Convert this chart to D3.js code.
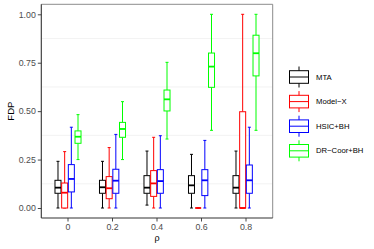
<!DOCTYPE html>
<html><head><meta charset="utf-8">
<script src="https://cdn.jsdelivr.net/npm/d3@7"></script>
<style>body{margin:0;background:#fff}svg{display:block}</style>
</head><body>
<svg id="c" width="374" height="249"></svg>
<script>
const categories = ["0","0.2","0.4","0.6","0.8"];
const seriesNames = ["MTA","Model\u2212X","HSIC+BH","DR\u2212Coor+BH"];
const seriesColors = ["#000000","#FF0000","#0000FF","#00FF00"];
const yTicks = [0,0.25,0.5,0.75,1];
const yTickLabels = ["0.00","0.25","0.50","0.75","1.00"];
// each entry: [min, q1, median, q3, max] per category
const mta    = [[0,0.076,0.105,0.143,0.241],[0,0.076,0.107,0.143,0.241],[0.015,0.076,0.105,0.167,0.294],[0,0.076,0.117,0.167,0.277],[0,0.076,0.105,0.167,0.294]];
const modelX = [[0,0,0.079,0.129,0.291],[0,0.048,0.102,0.162,0.312],[0,0.060,0.127,0.193,0.365],[0,0,0,0,0],[0,0,0,0.497,1.0]];
const hsic   = [[0,0.083,0.150,0.224,0.417],[0,0.076,0.141,0.200,0.380],[0,0.076,0.139,0.198,0.373],[0,0.064,0.143,0.198,0.349],[0,0.076,0.143,0.222,0.417]];
const drCoor = [[0.25,0.334,0.368,0.398,0.482],[0.25,0.365,0.408,0.442,0.549],[0.356,0.501,0.561,0.609,0.752],[0.401,0.623,0.730,0.800,1.0],[0.401,0.682,0.799,0.892,1.0]];
const seriesData = [mta, modelX, hsic, drCoor];

const svg = d3.select("#c");
const L = 41.3, R = 272.7, T = 4.3, B = 218;
const x = d3.scaleBand().domain(categories).range([L, R]).paddingOuter(0.1).paddingInner(0);
const y = d3.scaleLinear().range([B, T]);
y.domain([0 - (B-208)/193.7, 1 + (14.3-T)/193.7]);
const inner = d3.scaleBand().domain(d3.range(4)).range([0, x.bandwidth()*0.6]);
const off = x.bandwidth()*0.2;
const font = "Liberation Sans, Arial, sans-serif";

// grid (minor)
const minor = [0.125,0.375,0.625,0.875];
svg.append("g").selectAll("line").data(minor).join("line")
  .attr("x1", L).attr("x2", R).attr("y1", d=>y(d)).attr("y2", d=>y(d))
  .attr("stroke", "#ebebeb").attr("stroke-width", 0.6);

// panel top/right border
svg.append("path").attr("d", `M${L},${T}H${R}V${B}`).attr("fill","none").attr("stroke","#7f7f7f").attr("stroke-width",0.9);

// boxes
seriesData.forEach((sd, si) => {
  const g = svg.append("g");
  sd.forEach((s, ci) => {
    const cx = x(categories[ci]) + off + inner(si) + inner.bandwidth()/2;
    const w = inner.bandwidth()*0.9;
    const col = seriesColors[si];
    const cap = w*0.5;
    const [mn,q1,md,q3,mx] = s;
    g.append("line").attr("x1",cx).attr("x2",cx).attr("y1",y(q3)).attr("y2",y(mx)).attr("stroke",col).attr("stroke-width",1);
    g.append("line").attr("x1",cx).attr("x2",cx).attr("y1",y(q1)).attr("y2",y(mn)).attr("stroke",col).attr("stroke-width",1);
    g.append("line").attr("x1",cx-cap/2).attr("x2",cx+cap/2).attr("y1",y(mx)).attr("y2",y(mx)).attr("stroke",col).attr("stroke-width",1);
    g.append("line").attr("x1",cx-cap/2).attr("x2",cx+cap/2).attr("y1",y(mn)).attr("y2",y(mn)).attr("stroke",col).attr("stroke-width",1);
    g.append("rect").attr("x",cx-w/2).attr("width",w).attr("y",y(q3)).attr("height",Math.max(0,y(q1)-y(q3)))
      .attr("fill","#fff").attr("stroke",col).attr("stroke-width",1);
    g.append("line").attr("x1",cx-w/2).attr("x2",cx+w/2).attr("y1",y(md)).attr("y2",y(md)).attr("stroke",col).attr("stroke-width",1.8);
  });
});

// axes
const yAxis = d3.axisLeft(y).tickValues(yTicks).tickFormat((d,i)=>yTickLabels[i]).tickSize(3.5).tickPadding(2);
const ga = svg.append("g").attr("transform",`translate(${L},0)`).call(yAxis);
const xAxis = d3.axisBottom(x).tickSize(3.5).tickPadding(2);
const gx = svg.append("g").attr("transform",`translate(0,${B})`).call(xAxis);
[ga,gx].forEach(g=>{
  g.select(".domain").attr("stroke","#333").attr("stroke-width",1.1);
  g.selectAll(".tick line").attr("stroke","#333").attr("stroke-width",0.9);
  g.selectAll(".tick text").attr("fill","#4d4d4d").attr("font-size",8.8).attr("font-family",font);
});
ga.select(".domain").attr("d",`M0,${T}V${B}`);
gx.select(".domain").attr("d",`M${L},0H${R}`);

svg.append("text").attr("transform",`translate(14,${(T+B)/2}) rotate(-90)`).attr("text-anchor","middle")
  .attr("font-size",9.5).attr("font-family",font).attr("fill","#000").text("FDP");
svg.append("text").attr("x",(L+R)/2).attr("y",241).attr("text-anchor","middle")
  .attr("font-size",9).attr("font-family",font).attr("fill","#000").text("\u03C1");

// legend
const leg = svg.append("g");
const ly = d3.scaleBand().domain(d3.range(4)).range([64.7, 163.1]);
seriesNames.forEach((n, i) => {
  const cy = ly(i) + ly.bandwidth()/2;
  const col = seriesColors[i];
  const x0 = 289.5, x1 = 308.5, xm = (x0+x1)/2;
  leg.append("line").attr("x1",xm).attr("x2",xm).attr("y1",cy-10.5).attr("y2",cy+10.5).attr("stroke",col).attr("stroke-width",1);
  leg.append("rect").attr("x",x0).attr("y",cy-6.3).attr("width",x1-x0).attr("height",12.6).attr("fill","#fff").attr("stroke",col).attr("stroke-width",1);
  leg.append("line").attr("x1",x0).attr("x2",x1).attr("y1",cy).attr("y2",cy).attr("stroke",col).attr("stroke-width",1);
  leg.append("text").attr("x",316).attr("y",cy).attr("dy","0.35em").attr("font-size",7.7).attr("font-family",font).attr("fill","#000").text(n);
});
</script>
</body></html>
